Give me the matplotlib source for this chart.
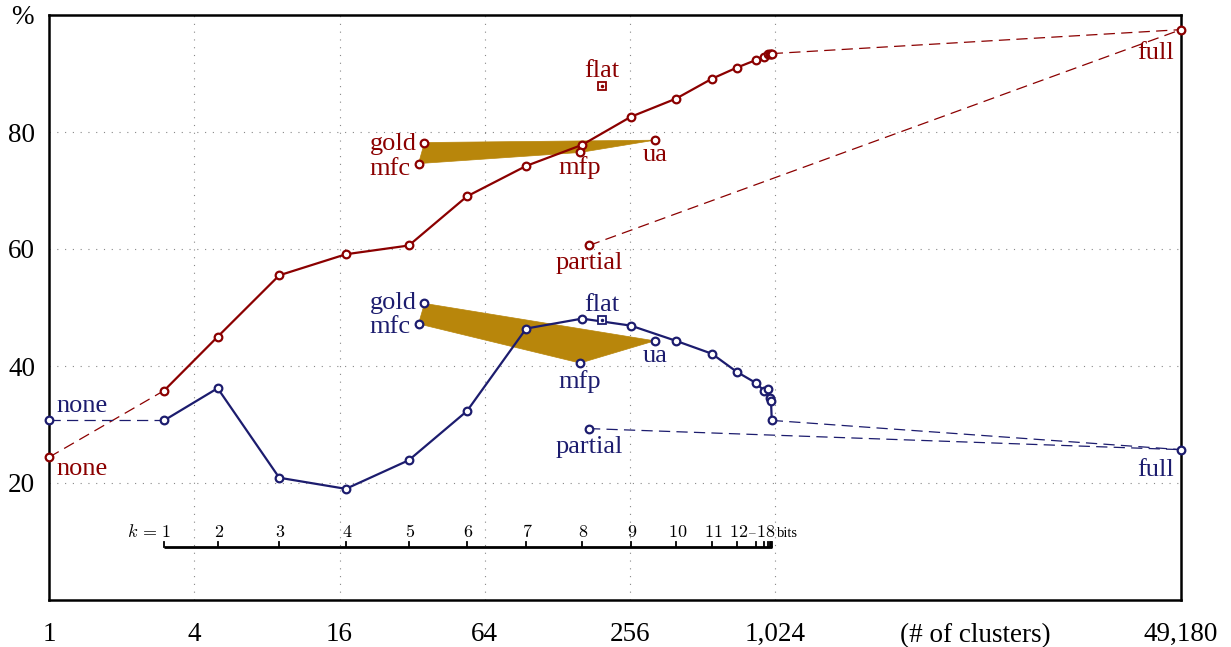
import numpy as np
import matplotlib
matplotlib.use('Agg')
import matplotlib.pyplot as plt
from matplotlib.patches import Polygon

# ============== data ==============
# number of clusters for each prefix length k (bits)
k_bits = list(range(1, 19))
n_clusters = [3, 5, 9, 17, 31, 54, 95, 162, 258, 397, 559, 709, 851, 918, 954, 971, 983, 990]
k_labels = ['1', '2', '3', '4', '5', '6', '7', '8', '9', '10', '11', '12', '', '', '', '', '', '']

red_curve = [35.8, 45.0, 55.5, 59.1, 60.6, 69.0, 74.2, 77.8, 82.6, 85.7, 89.1, 91.0,
             92.3, 92.9, 93.3, 93.4, 93.4, 93.4]
blue_curve = [30.7, 36.2, 20.9, 19.0, 23.9, 32.3, 46.4, 48.1, 46.9, 44.3, 42.1, 39.0,
              37.1, 35.8, 36.0, 34.5, 34.0, 30.7]

n_none, n_full = 1, 49180
red_none, blue_none = 24.4, 30.7
red_full, blue_full = 97.5, 25.7

n_partial = 173
red_partial, blue_partial = 60.6, 29.3

n_flat = 196
red_flat, blue_flat = 87.9, 47.8

# gold / mfc / mfp / ua
sys_names = ['gold', 'ua', 'mfp', 'mfc']
sys_n = [36, 324, 159, 34]
red_sys = [78.2, 78.6, 76.5, 74.6]
blue_sys = [50.7, 44.3, 40.5, 47.2]

xtick_vals = [1, 4, 16, 64, 256, 1024, 49180]
xtick_labels = ['1', '4', '16', '64', '256', '1,024', '49,180']
ytick_vals = [20, 40, 60, 80]

RED = '#8b0000'
BLUE = '#1c1c6e'
GOLD = '#b8860b'
SERIF = ['Liberation Serif', 'DejaVu Serif']

plt.rcParams['font.family'] = SERIF
plt.rcParams['mathtext.fontset'] = 'cm'

fig = plt.figure(figsize=(12.31, 6.47), dpi=100)
ax = fig.add_axes([49 / 1231, 47 / 647, 1132 / 1231, 585 / 647])
ax.set_xscale('log', base=2)
ax.set_xlim(1, 49180)
ax.set_ylim(0, 100)

# grid
for xv in xtick_vals[1:-1]:
    ax.axvline(xv, color='#888888', lw=0.8, ls=(0, (1, 6)), zorder=0)
for yv in ytick_vals:
    ax.axhline(yv, color='#888888', lw=0.8, ls=(0, (1, 6)), zorder=0)

ax.set_xticks(xtick_vals)
ax.set_xticklabels(xtick_labels)
ax.xaxis.set_minor_locator(matplotlib.ticker.NullLocator())
ax.set_yticks(ytick_vals)
ax.set_yticklabels([str(v) for v in ytick_vals])
ax.tick_params(length=0, labelsize=19.5)
ax.tick_params(axis='x', pad=16)
ax.tick_params(axis='y', pad=10)
for sp in ax.spines.values():
    sp.set_linewidth(1.8)

ax.text(6900, -0.0715, '(# of clusters)', transform=ax.get_xaxis_transform(),
        ha='center', va='baseline', fontsize=19.5)
fig.text(22 / 1231, 1 - 17 / 647, '%', ha='center', va='center', fontsize=19.5)

mk = dict(marker='o', markersize=5.5, markerfacecolor='white', markeredgewidth=1.6)
dash = (0, (9, 5))

for col, curve, none_v, full_v, part_v, flat_v, sys_v in [
        (RED, red_curve, red_none, red_full, red_partial, red_flat, red_sys),
        (BLUE, blue_curve, blue_none, blue_full, blue_partial, blue_flat, blue_sys)]:
    # gold polygon
    poly = Polygon(np.column_stack([sys_n, sys_v]), closed=True, facecolor=GOLD,
                   edgecolor=GOLD, lw=0.5, zorder=1)
    ax.add_patch(poly)
    # dashed connections
    ax.plot([n_none, n_clusters[0]], [none_v, curve[0]], color=col, lw=0.9, ls=dash, zorder=2)
    ax.plot([n_clusters[-1], n_full], [curve[-1], full_v], color=col, lw=0.9, ls=dash, zorder=2)
    ax.plot([n_partial, n_full], [part_v, full_v], color=col, lw=0.9, ls=dash, zorder=2)
    # main curve
    ax.plot(n_clusters, curve, color=col, lw=1.6, markeredgecolor=col, zorder=3, **mk)
    # single points
    ax.plot([n_none, n_full, n_partial], [none_v, full_v, part_v], ls='none', color=col,
            markeredgecolor=col, zorder=4, clip_on=False, **mk)
    ax.plot(sys_n, sys_v, ls='none', color=col, markeredgecolor=col, zorder=4, **mk)
    ax.plot([n_flat], [flat_v], ls='none', marker='s', markersize=5.5, markerfacecolor='white',
            markeredgecolor=col, markeredgewidth=1.3, zorder=4)
    ax.plot([n_flat], [flat_v], ls='none', marker='o', markersize=1.5, color=col, zorder=5)


def label(txt, x, y, dx, dy, col, ha='center'):
    # dx, dy in pixels, dy = baseline offset
    ax.annotate(txt, (x, y), xytext=(dx * 0.72, dy * 0.72), textcoords='offset points',
                ha=ha, va='baseline', color=col, fontsize=19, zorder=6,
                annotation_clip=False)


# red labels
label('none', n_none, red_none, 7, -18, RED, 'left')
label('full', n_full, red_full, -7, -29, RED, 'right')
label('partial', n_partial, red_partial, 0, -24, RED)
label('flat', n_flat, red_flat, 0, 9, RED)
label('gold', sys_n[0], red_sys[0], -8, -7, RED, 'right')
label('ua', sys_n[1], red_sys[1], 0, -21, RED)
label('mfp', sys_n[2], red_sys[2], 0, -22, RED)
label('mfc', sys_n[3], red_sys[3], -8, -11, RED, 'right')

# blue labels
label('none', n_none, blue_none, 7, 8, BLUE, 'left')
label('full', n_full, blue_full, -7, -26, BLUE, 'right')
label('partial', n_partial, blue_partial, 0, -24, BLUE)
label('flat', n_flat, blue_flat, 0, 9, BLUE)
label('gold', sys_n[0], blue_sys[0], -8, -6, BLUE, 'right')
label('ua', sys_n[1], blue_sys[1], 0, -21, BLUE)
label('mfp', sys_n[2], blue_sys[2], 0, -25, BLUE)
label('mfc', sys_n[3], blue_sys[3], -8, -9, BLUE, 'right')

# ---- k-bit scale ----
k_y = 9.05
k_text_y = 10.75
K_SIZE = 13
ax.plot([n_clusters[0], n_clusters[-1]], [k_y, k_y], color='black', lw=2.0,
        solid_capstyle='butt', zorder=3)
for n, lab in zip(n_clusters, k_labels):
    ax.plot([n, n], [k_y, k_y + 0.9], color='black', lw=1.3, zorder=3)
    if lab:
        ax.annotate('$' + lab + '$', (n, k_text_y), xytext=(1, 0), textcoords='offset points',
                    ha='center', va='baseline', fontsize=K_SIZE)


def k_note(txt, n, dx, dy=0, ha='center', size=K_SIZE):
    ax.annotate(txt, (n, k_text_y), xytext=(dx * 0.72, dy * 0.72), textcoords='offset points',
                ha=ha, va='baseline', fontsize=size)


k_note('$k\\,=$', n_clusters[0], -7, ha='right')
k_note('$-$', n_clusters[11], 15, dy=3, size=8)
k_note('$18$', n_clusters[-1], -6)
k_note('bits', n_clusters[-1], 5, ha='left', size=10.5)

fig.savefig('out.png', dpi=100)
